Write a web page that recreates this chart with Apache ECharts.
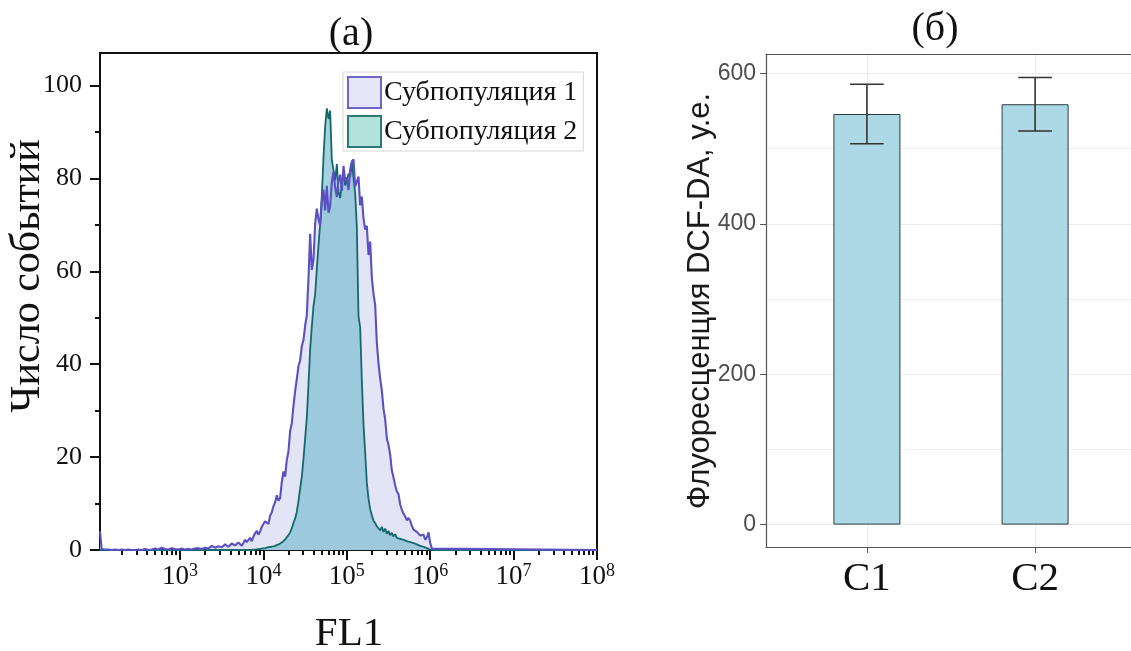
<!DOCTYPE html>
<html>
<head>
<meta charset="utf-8">
<script src="https://cdn.jsdelivr.net/npm/echarts@6/dist/echarts.min.js"></script>
<style>
  html, body { margin: 0; padding: 0; background: #fff; }
  #chart { width: 1131px; height: 651px; }
</style>
</head>
<body>
<div id="chart"></div>
<script>
// FL1 channel bins, log10 of fluorescence intensity
const fl1Log = [
  2.04, 2.06, 2.10, 2.14, 2.18, 2.22, 2.26, 2.30, 2.34, 2.38,
  2.42, 2.46, 2.50, 2.54, 2.58, 2.62, 2.66, 2.70, 2.74, 2.78,
  2.82, 2.86, 2.90, 2.94, 2.98, 3.02, 3.06, 3.10, 3.14, 3.18,
  3.22, 3.26, 3.30, 3.34, 3.38, 3.42, 3.46, 3.50, 3.54, 3.58,
  3.62, 3.66,
  3.68, 3.70, 3.72, 3.74, 3.76, 3.78, 3.80, 3.82, 3.84, 3.86,
  3.88, 3.90, 3.92, 3.94, 3.96, 3.98, 4.00, 4.02, 4.04, 4.06,
  4.08, 4.10, 4.12, 4.14, 4.16, 4.18, 4.20, 4.22, 4.24, 4.26,
  4.28, 4.30, 4.32, 4.34, 4.36, 4.38, 4.40, 4.42, 4.44, 4.46,
  4.48, 4.50, 4.52, 4.54, 4.56, 4.58, 4.60, 4.62, 4.64, 4.66,
  4.68, 4.70, 4.72, 4.74, 4.76, 4.78, 4.80, 4.82, 4.84, 4.86,
  4.88, 4.90, 4.92, 4.94, 4.96, 4.98, 5.00, 5.02, 5.04, 5.06,
  5.08, 5.10, 5.12, 5.14, 5.16, 5.18, 5.20, 5.22, 5.24, 5.26,
  5.28, 5.30, 5.32, 5.34, 5.36, 5.38, 5.40, 5.42, 5.44, 5.46,
  5.48, 5.50, 5.52, 5.54, 5.56, 5.58, 5.60, 5.62, 5.64, 5.66,
  5.68, 5.70, 5.72, 5.74, 5.76, 5.78, 5.80, 5.82, 5.84, 5.86,
  5.88, 5.90, 5.92, 5.94, 5.96, 5.98, 6.00, 6.02, 6.04,
  8.00
];

// Event counts per bin, subpopulation 1
const subpop1 = [
  4.0, 0.2, 0.1, 0.1, 0, 0.1, 0, 0.1, 0, 0.1,
  0, 0, 0.1, 0, 0.2, 0, 0.1, 0.3, 0.1, 0.5,
  0.2, 0.1, 0.4, 0.2, 0.1, 0.3, 0.1, 0.2, 0.1, 0.3,
  0.4, 0.2, 0.5, 0.3, 0.9, 0.5, 0.8, 0.6, 1.2, 0.7,
  1.4, 1.0,
  1.4, 1.6, 1.2, 0.9, 1.5, 2.2, 1.7, 2.0, 2.6, 1.9,
  2.9, 3.6, 4.1, 3.3, 4.0, 5.0, 4.6, 6.2, 6.6, 5.6,
  7.4, 8.1, 9.4, 10.3, 11.8, 10.6, 11.2, 14.6, 16.9, 15.8,
  19.4, 21.2, 25.6, 27.3, 31.0, 34.2, 36.8, 39.6, 40.8, 43.9,
  45.2, 48.3, 50.6, 58.4, 68.1, 60.3, 62.5, 70.2, 73.5, 71.2,
  69.8, 74.9, 77.6, 73.1, 78.4, 72.6, 74.0, 79.2, 81.5, 78.1,
  76.0, 79.4, 80.8, 77.3, 82.7, 79.6, 80.2, 77.5, 81.9, 83.6,
  84.1, 78.3, 77.9, 80.4, 74.2, 76.1, 71.4, 69.0, 69.8, 63.5,
  66.4, 58.6, 55.1, 52.7, 44.6, 40.1, 36.9, 34.3, 30.4, 28.1,
  24.0, 22.6, 20.5, 17.1, 15.6, 13.9, 12.6, 12.0, 9.8, 8.7,
  7.8, 7.2, 6.4, 6.9, 6.3, 5.2, 4.4, 4.8, 3.9, 4.3,
  3.1, 2.8, 3.3, 2.2, 2.7, 3.8, 1.5, 0.3, 0,
  0
];

// Event counts per bin, subpopulation 2
const subpop2 = [
  0, 0, 0, 0, 0, 0, 0, 0, 0, 0,
  0, 0, 0, 0, 0, 0, 0, 0, 0, 0,
  0, 0, 0, 0, 0, 0, 0, 0, 0, 0,
  0, 0, 0, 0, 0, 0, 0, 0, 0, 0,
  0, 0,
  0, 0, 0, 0, 0, 0, 0, 0, 0, 0,
  0, 0.1, 0.1, 0.2, 0.2, 0.3, 0.3, 0.4, 0.5, 0.6,
  0.6, 0.7, 0.8, 0.9, 1.0, 1.2, 1.4, 1.6, 2.0, 2.3,
  2.7, 3.2, 3.8, 4.7, 5.8, 6.8, 8.2, 10.5, 13.2, 15.8,
  19.6, 24.1, 28.5, 35.6, 43.2, 48.1, 52.5, 55.0, 60.5, 65.6,
  70.2, 76.3, 84.5, 91.2, 95.1, 92.8, 94.6, 84.0, 83.8, 79.6,
  83.1, 77.2, 75.8, 79.0, 81.2, 78.5, 79.4, 81.0, 80.3, 83.4,
  80.1, 76.8, 69.5, 50.3, 48.0, 36.5, 27.0, 21.0, 14.5, 11.0,
  8.8, 7.5, 6.3, 5.8, 5.1, 4.9, 4.2, 5.0, 3.9, 4.6,
  3.5, 4.1, 3.2, 3.7, 2.9, 3.4, 2.6, 3.0, 2.4, 2.8,
  2.2, 2.5, 1.9, 2.3, 1.7, 1.9, 1.5, 1.6, 1.2, 1.3,
  0.9, 1.0, 0.7, 0.6, 0.4, 0.3, 0.1, 0, 0,
  0
];

const seriesNames = ['Субпопуляция 1', 'Субпопуляция 2'];
const decades = [3, 4, 5, 6, 7, 8];
const countTicks = [0, 20, 40, 60, 80, 100];
const countMinorTicks = [10, 30, 50, 70, 90];

// DCF-DA fluorescence per group: mean and error
const groups = ['C1', 'C2'];
const dcfMean = [546, 559];
const dcfErr = [39.5, 35.5];
const dcfTicks = [0, 200, 400, 600];
const dcfMinor = [100, 300, 500];

const SERIF = 'Liberation Serif, Times New Roman, serif';
const SANS = 'Liberation Sans, Arial, sans-serif';
const PANEL_LINE = '#555';

// logarithmic minor ticks (2..9 x 10^n) inside the visible range
const xMin = 2.04, xMax = 8;
const minorLog = [];
for (let n = 2; n < 8; n++) {
  for (let k = 2; k <= 9; k++) {
    const v = n + Math.log10(k);
    if (v > xMin && v < xMax) minorLog.push(v);
  }
}

const pts1 = fl1Log.map((x, i) => [x, subpop1[i]]);
const pts2 = fl1Log.map((x, i) => [x, subpop2[i]]);
const barData = groups.map((g, i) => [i + 1, dcfMean[i]]);
const errData = groups.map((g, i) => [i + 1, dcfMean[i] - dcfErr[i], dcfMean[i] + dcfErr[i]]);

const chart = echarts.init(document.getElementById('chart'), null, { renderer: 'canvas' });

chart.setOption({
  animation: false,
  backgroundColor: '#fff',
  grid: [
    { left: 100, top: 53, width: 497, height: 497, outerBoundsMode: 'none', containLabel: false,
      show: true, borderColor: '#111', borderWidth: 2, backgroundColor: 'transparent' },
    // the bar panel runs past the right edge of the page, so only its left, top and bottom edges show
    { left: 766, top: 54, width: 370, height: 493, outerBoundsMode: 'none', containLabel: false, show: false }
  ],
  legend: {
    left: 343, top: 72,
    orient: 'vertical',
    selectedMode: false,
    itemWidth: 33, itemHeight: 31, itemGap: 6,
    padding: [4, 6, 3, 4],
    borderColor: '#d6d6d6', borderWidth: 1, backgroundColor: '#fff',
    textStyle: { fontFamily: SERIF, fontSize: 28, color: '#111', padding: [0, 0, 0, -2] },
    data: [
      { name: seriesNames[0], icon: 'rect', itemStyle: { color: '#e6e6f8', borderColor: '#6d66c9', borderWidth: 2 } },
      { name: seriesNames[1], icon: 'rect', itemStyle: { color: '#b3e1dc', borderColor: '#2b7a77', borderWidth: 2 } }
    ]
  },
  xAxis: [
    {
      type: 'value', gridIndex: 0, min: xMin, max: xMax,
      axisLine: { show: true, onZero: false, lineStyle: { color: '#111', width: 2 } },
      axisTick: { show: true, customValues: decades, length: 10, lineStyle: { color: '#111', width: 2 } },
      axisLabel: {
        customValues: decades, margin: 12,
        formatter: v => '{b|10}{s|' + v + '}',
        rich: {
          b: { fontFamily: SERIF, fontSize: 27, color: '#111', lineHeight: 30 },
          s: { fontFamily: SERIF, fontSize: 18, color: '#111', verticalAlign: 'top', lineHeight: 16 }
        }
      },
      splitLine: { show: false }
    },
    {
      type: 'value', gridIndex: 0, min: xMin, max: xMax, position: 'bottom',
      axisLine: { show: false, onZero: false },
      axisTick: { show: true, customValues: minorLog, length: 5, lineStyle: { color: '#111', width: 2 } },
      axisLabel: { show: false },
      splitLine: { show: false }
    },
    {
      type: 'value', gridIndex: 1, min: 0.4, max: 2.6, position: 'bottom',
      axisLine: { show: true, onZero: false, lineStyle: { color: PANEL_LINE, width: 1.2 } },
      axisTick: { show: true, customValues: [1, 2], length: 6, lineStyle: { color: PANEL_LINE, width: 1 } },
      axisLabel: {
        customValues: [1, 2], margin: 12,
        formatter: v => groups[Math.round(v) - 1],
        fontFamily: SERIF, fontSize: 41, color: '#111'
      },
      splitLine: { show: true, lineStyle: { color: '#ebebeb', width: 1 } }
    },
    {
      type: 'value', gridIndex: 1, min: 0.4, max: 2.6, position: 'top',
      axisLine: { show: true, onZero: false, lineStyle: { color: PANEL_LINE, width: 1.2 } },
      axisTick: { show: false },
      axisLabel: { show: false },
      splitLine: { show: false }
    }
  ],
  yAxis: [
    {
      type: 'value', gridIndex: 0, min: 0, max: 107,
      axisLine: { show: true, onZero: false, lineStyle: { color: '#111', width: 2 } },
      axisTick: { show: true, customValues: countTicks, length: 10, lineStyle: { color: '#111', width: 2 } },
      axisLabel: { customValues: countTicks, margin: 18, fontFamily: SERIF, fontSize: 26, color: '#111' },
      splitLine: { show: false }
    },
    {
      type: 'value', gridIndex: 0, min: 0, max: 107, position: 'left',
      axisLine: { show: false, onZero: false },
      axisTick: { show: true, customValues: countMinorTicks, length: 5, lineStyle: { color: '#111', width: 2 } },
      axisLabel: { show: false },
      splitLine: { show: false }
    },
    {
      type: 'value', gridIndex: 1, min: -29.8, max: 625.8, position: 'left',
      axisLine: { show: true, onZero: false, lineStyle: { color: PANEL_LINE, width: 1.2 } },
      axisTick: { show: true, customValues: dcfTicks, length: 6, lineStyle: { color: PANEL_LINE, width: 1 } },
      axisLabel: { customValues: dcfTicks, margin: 10, fontFamily: SANS, fontSize: 23, color: '#4d4d4d' },
      splitLine: { show: true, lineStyle: { color: '#ebebeb', width: 1 } }
    },
    {
      type: 'value', gridIndex: 1, min: -29.8, max: 625.8, position: 'left',
      axisLine: { show: false, onZero: false },
      axisTick: { show: false, customValues: dcfMinor },
      axisLabel: { show: false },
      splitLine: { show: true, lineStyle: { color: '#f2f2f2', width: 1 } }
    }
  ],
  graphic: [
    { type: 'text', x: 351, y: 34, style: { text: '(а)', font: '40px ' + SERIF, fill: '#111', align: 'center', verticalAlign: 'middle' } },
    { type: 'text', x: 935, y: 29, style: { text: '(б)', font: '40px ' + SERIF, fill: '#111', align: 'center', verticalAlign: 'middle' } },
    { type: 'text', x: 349, y: 634, style: { text: 'FL1', font: '41px ' + SERIF, fill: '#111', align: 'center', verticalAlign: 'middle' } },
    { type: 'text', x: 28, y: 276, rotation: Math.PI / 2, style: { text: 'Число событий', font: '42px ' + SERIF, fill: '#111', align: 'center', verticalAlign: 'middle' } },
    { type: 'text', x: 700, y: 301, rotation: Math.PI / 2, style: { text: 'Флуоресценция DCF-DA, у.е.', font: '31px ' + SANS, fill: '#1a1a1a', align: 'center', verticalAlign: 'middle' } }
  ],
  series: [
    {
      name: seriesNames[0], type: 'line', xAxisIndex: 0, yAxisIndex: 0,
      data: pts1, symbol: 'none', z: 2,
      lineStyle: { width: 0, color: '#5b52c2' },
      itemStyle: { color: '#5b52c2' },
      areaStyle: { color: '#e4e4f7', opacity: 1 }
    },
    {
      name: seriesNames[1], type: 'line', xAxisIndex: 0, yAxisIndex: 0,
      data: pts2, symbol: 'none', z: 3,
      lineStyle: { width: 1.8, color: '#12696b' },
      itemStyle: { color: '#12696b' },
      areaStyle: { color: 'rgba(118,186,206,0.66)', opacity: 1 }
    },
    {
      name: seriesNames[0], type: 'line', xAxisIndex: 0, yAxisIndex: 0,
      data: pts1, symbol: 'none', z: 4,
      lineStyle: { width: 2.1, color: '#5a50c3' },
      itemStyle: { color: '#5a50c3' }
    },
    {
      type: 'bar', xAxisIndex: 2, yAxisIndex: 2,
      data: barData, barWidth: 67, z: 2,
      itemStyle: { color: '#add8e6', borderColor: '#2c3e44', borderWidth: 1 }
    },
    {
      type: 'custom', xAxisIndex: 2, yAxisIndex: 2, z: 5,
      data: errData,
      renderItem: function (params, api) {
        const x = api.value(0);
        const lo = api.coord([x, api.value(1)]);
        const hi = api.coord([x, api.value(2)]);
        const half = api.size([0.2, 0])[0] / 2;
        const style = { stroke: '#333', lineWidth: 1.6, fill: null };
        return {
          type: 'group',
          children: [
            { type: 'line', shape: { x1: lo[0], y1: lo[1], x2: hi[0], y2: hi[1] }, style: style },
            { type: 'line', shape: { x1: hi[0] - half, y1: hi[1], x2: hi[0] + half, y2: hi[1] }, style: style },
            { type: 'line', shape: { x1: lo[0] - half, y1: lo[1], x2: lo[0] + half, y2: lo[1] }, style: style }
          ]
        };
      }
    }
  ]
});
</script>
</body>
</html>
